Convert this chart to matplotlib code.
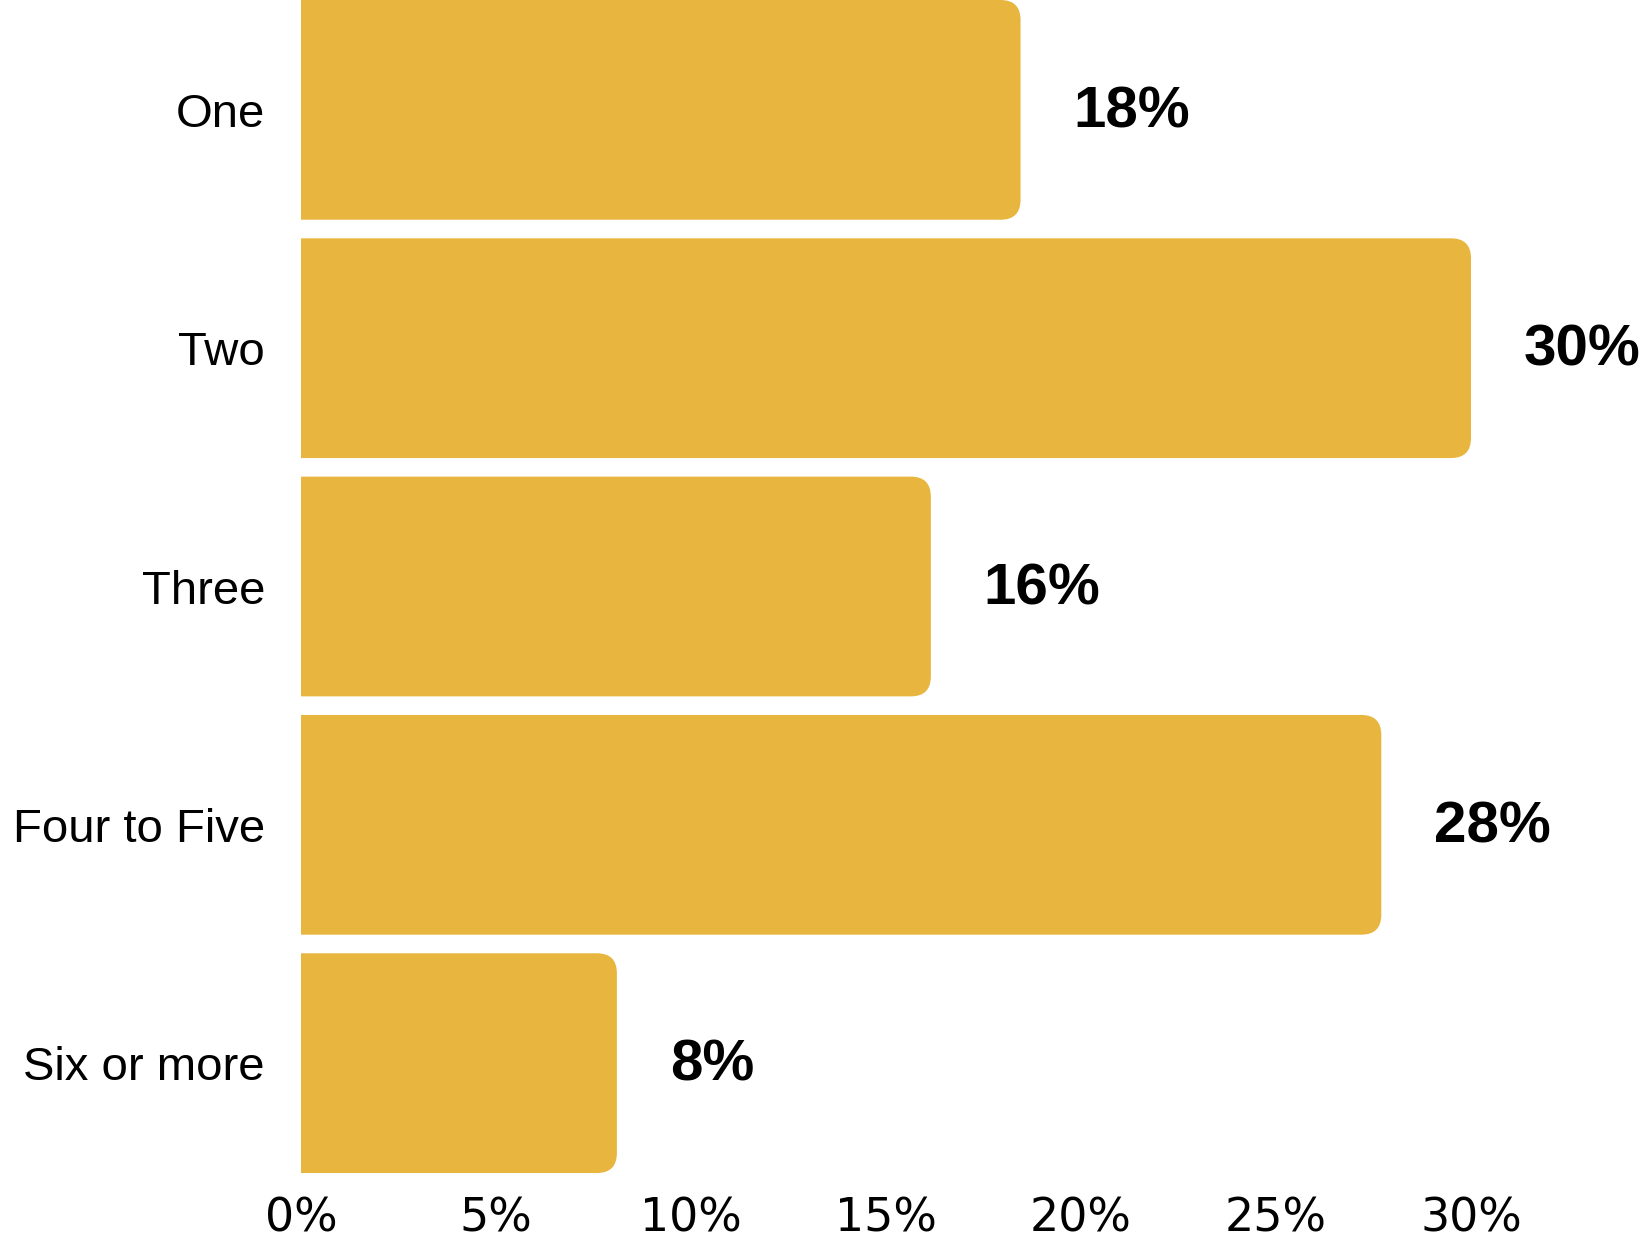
import matplotlib
matplotlib.use("Agg")
from matplotlib import pyplot as plt
from matplotlib.path import Path
from matplotlib.patches import PathPatch

# data
categories = ["One", "Two", "Three", "Four to Five", "Six or more"]
values = [18.45, 30.0, 16.15, 27.7, 8.1]
value_labels = ["18%", "30%", "16%", "28%", "8%"]
ticks = [0, 5, 10, 15, 20, 25, 30]
tick_labels = ["0%", "5%", "10%", "15%", "20%", "25%", "30%"]

bar_color = "#E8B63E"
bar_h = 0.922
W, H = 1652, 1241

plt.rcParams['font.family'] = ['Liberation Sans', 'DejaVu Sans']

fig = plt.figure(figsize=(W / 100, H / 100), dpi=100)
left_px, bottom_px = 301, 1173
ax = fig.add_axes([left_px / W, (H - bottom_px) / H, (W - left_px) / W, bottom_px / H])

xmax = (W - left_px) / 39.0
ax.set_xlim(0, xmax)
ax.set_ylim(len(categories) - 1 + bar_h / 2, -bar_h / 2)

# pixels per data unit, to get round corners of the same size in x and y
px_x = (W - left_px) / xmax
px_y = bottom_px / (len(categories) - 1 + bar_h)
r_px = 20
rx, ry = r_px / px_x, r_px / px_y


def right_rounded_bar(y, w):
    y0, y1 = y - bar_h / 2, y + bar_h / 2
    verts = [(0, y0), (w - rx, y0), (w, y0), (w, y0 + ry),
             (w, y1 - ry), (w, y1), (w - rx, y1), (0, y1), (0, y0)]
    codes = [Path.MOVETO, Path.LINETO, Path.CURVE3, Path.CURVE3,
             Path.LINETO, Path.CURVE3, Path.CURVE3, Path.LINETO, Path.CLOSEPOLY]
    return PathPatch(Path(verts, codes), facecolor=bar_color, edgecolor="none")


for i, (v, lab) in enumerate(zip(values, value_labels)):
    ax.add_patch(right_rounded_bar(i, v))
    ax.annotate(lab, xy=(v, i), xytext=(38, -2), textcoords="offset points",
                ha="left", va="center", fontsize=42, fontweight="bold", color="black")

ax.set_yticks(range(len(categories)))
ax.set_yticklabels(categories)
ax.set_xticks(ticks)
ax.set_xticklabels(tick_labels, family=['DejaVu Sans'])
ax.tick_params(axis="y", length=0, pad=26, labelsize=34)
ax.tick_params(axis="x", length=0, pad=17, labelsize=33)
for s in ax.spines.values():
    s.set_visible(False)

fig.savefig("out.png", dpi=100)
